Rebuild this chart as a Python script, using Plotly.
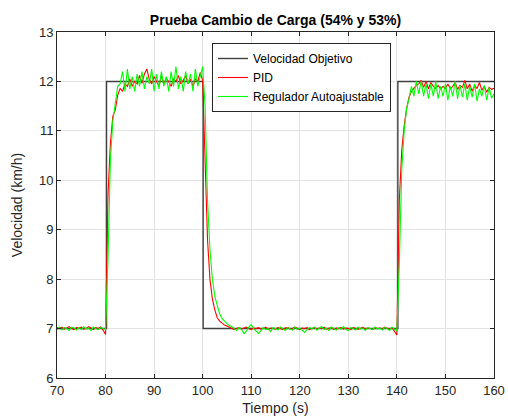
import numpy as np
import plotly.graph_objects as go

# Time grid (s), 0.5 s sampling
tiempo = np.linspace(70, 160, 181)

# Target speed (step profile)
obj_t = [70, 80.2, 100.1, 140.2, 160]
obj_v = [7, 12, 7, 12, 12]

pid = [
    7.02, 7.00, 7.03, 6.99, 7.01, 7.04, 7.00, 6.98, 7.02, 7.01,
    7.03, 6.99, 7.00, 7.04, 7.01, 6.98, 7.02, 7.00, 7.03, 6.97,
    6.88, 9.70, 10.75, 11.30, 11.42, 11.72, 11.86, 11.80, 11.95, 11.90,
    12.05, 11.90, 12.00, 11.95, 12.12, 11.96, 12.15, 12.25, 12.05, 11.95,
    12.10, 12.00, 11.90, 12.12, 11.95, 12.06, 12.00, 11.90, 12.05, 12.00,
    12.12, 11.95, 12.02, 12.12, 11.95, 12.05, 11.90, 12.05, 12.00, 12.18,
    12.02, 10.40, 8.80, 8.00, 7.60, 7.38, 7.22, 7.15, 7.10, 7.07,
    7.05, 7.03, 7.01, 6.98, 7.00, 7.02, 6.99, 7.01, 7.03, 7.00,
    6.98, 7.01, 7.00, 7.02, 6.99, 7.00, 7.03, 6.98, 7.01, 7.00,
    6.99, 7.02, 7.00, 6.98, 7.01, 7.02, 6.99, 7.00, 7.03, 7.00,
    6.98, 7.01, 7.00, 7.02, 6.98, 7.00, 7.02, 6.99, 7.01, 7.00,
    7.03, 6.99, 7.00, 7.02, 6.98, 7.01, 7.00, 7.02, 6.99, 7.01,
    7.00, 6.98, 7.02, 7.01, 6.99, 7.00, 7.03, 6.99, 7.01, 7.00,
    6.98, 7.02, 7.00, 7.01, 6.99, 7.03, 7.00, 6.98, 7.02, 6.95,
    6.87, 9.60, 10.60, 11.10, 11.45, 11.68, 11.80, 11.86, 11.92, 11.95,
    12.02, 11.88, 12.00, 11.85, 11.98, 11.90, 11.86, 11.92, 11.85, 11.90,
    11.86, 11.95, 11.85, 11.90, 11.98, 11.84, 11.92, 11.88, 12.02, 11.85,
    11.95, 11.80, 11.92, 11.86, 11.98, 11.82, 11.90, 11.78, 11.88, 11.84,
    11.86,
]

autoajustable = [
    6.98, 7.03, 6.97, 7.02, 7.00, 6.96, 7.03, 7.01, 6.97, 7.02,
    6.98, 7.04, 6.99, 7.01, 6.96, 7.03, 7.00, 6.98, 7.02, 7.00,
    6.98, 8.40, 10.40, 11.20, 11.60, 11.90, 11.95, 12.20, 11.80, 12.25,
    11.85, 12.10, 11.80, 12.15, 11.90, 12.20, 11.85, 12.10, 11.95, 12.25,
    11.80, 12.15, 11.85, 12.20, 11.90, 12.10, 11.80, 12.20, 11.90, 12.30,
    11.85, 12.10, 11.80, 12.20, 11.95, 12.15, 11.80, 12.25, 11.90, 12.10,
    12.30, 11.50, 9.60, 8.60, 8.00, 7.65, 7.45, 7.30, 7.20, 7.14,
    7.10, 7.06, 7.04, 7.00, 6.96, 7.02, 6.98, 6.90, 6.95, 7.03,
    7.08, 7.00, 6.95, 6.90, 6.96, 7.02, 6.98, 7.00, 6.94, 7.02,
    7.00, 6.97, 7.03, 6.99, 6.96, 7.02, 7.00, 6.97, 7.03, 6.98,
    7.01, 6.96, 6.92, 6.98, 7.02, 6.99, 7.03, 6.97, 7.00, 7.04,
    6.98, 7.01, 6.96, 7.03, 7.00, 6.97, 7.02, 6.99, 7.04, 6.98,
    6.96, 7.02, 7.00, 6.97, 7.03, 6.99, 7.01, 6.96, 7.02, 7.00,
    6.98, 7.03, 6.99, 7.01, 6.97, 7.02, 7.00, 6.96, 7.03, 6.99,
    6.95, 8.30, 10.20, 11.00, 11.45, 11.65, 11.90, 11.70, 12.00, 11.75,
    12.00, 11.70, 11.95, 11.65, 11.95, 11.70, 12.00, 11.65, 11.90, 11.70,
    11.95, 11.62, 11.90, 11.70, 12.00, 11.65, 11.92, 11.68, 11.95, 11.62,
    11.90, 11.68, 11.95, 11.60, 11.85, 11.70, 11.92, 11.62, 11.88, 11.66,
    11.75,
]

x_ticks = [70, 80, 90, 100, 110, 120, 130, 140, 150, 160]
y_ticks = [6, 7, 8, 9, 10, 11, 12, 13]

FONT = "Liberation Sans, Arial, Helvetica, sans-serif"
AX = "#262626"

fig = go.Figure()
fig.add_trace(go.Scatter(x=obj_t, y=obj_v, mode="lines", line_shape="hv",
                         name="Velocidad Objetivo",
                         line=dict(color="#404040", width=1.4)))
fig.add_trace(go.Scatter(x=tiempo, y=pid, mode="lines", name="PID",
                         line=dict(color="#ff0000", width=1.1)))
fig.add_trace(go.Scatter(x=tiempo, y=autoajustable, mode="lines",
                         name="Regulador Autoajustable",
                         line=dict(color="#00ff00", width=1.1)))

fig.update_layout(
    width=508, height=420,
    margin=dict(l=57, r=14, t=32, b=42, autoexpand=False),
    paper_bgcolor="white", plot_bgcolor="white",
    font=dict(family=FONT, size=13, color=AX),
    title=dict(text="<b>Prueba Cambio de Carga (54% y 53%)</b>",
               x=(57 + 218.5) / 508, xanchor="center",
               y=1 - 20 / 420, yanchor="middle", yref="container",
               font=dict(size=14, color="#000000")),
    showlegend=True,
    legend=dict(x=(212 - 57) / 437, y=(378 - 43) / 346,
                xanchor="left", yanchor="top",
                bgcolor="white", bordercolor="#262626", borderwidth=1,
                font=dict(size=12, color="#000000"),
                tracegroupgap=0, itemwidth=30),
)
fig.update_xaxes(range=[70, 160], tickvals=x_ticks,
                 ticktext=[str(v) for v in x_ticks],
                 showgrid=True, gridcolor="#e3e3e3", gridwidth=1,
                 showline=True, linecolor=AX, linewidth=1, mirror="ticks",
                 ticks="inside", ticklen=4, tickcolor=AX,
                 zeroline=False, automargin=False,
                 title=dict(text="Tiempo (s)", font=dict(size=14), standoff=6))
fig.update_yaxes(range=[6, 13], tickvals=y_ticks,
                 ticktext=[str(v) for v in y_ticks],
                 showgrid=True, gridcolor="#e3e3e3", gridwidth=1,
                 showline=True, linecolor=AX, linewidth=1, mirror="ticks",
                 ticks="inside", ticklen=4, tickcolor=AX,
                 zeroline=False, automargin=False,
                 title=dict(text="Velocidad (km/h)", font=dict(size=14), standoff=13))

fig.write_html("out.html")
